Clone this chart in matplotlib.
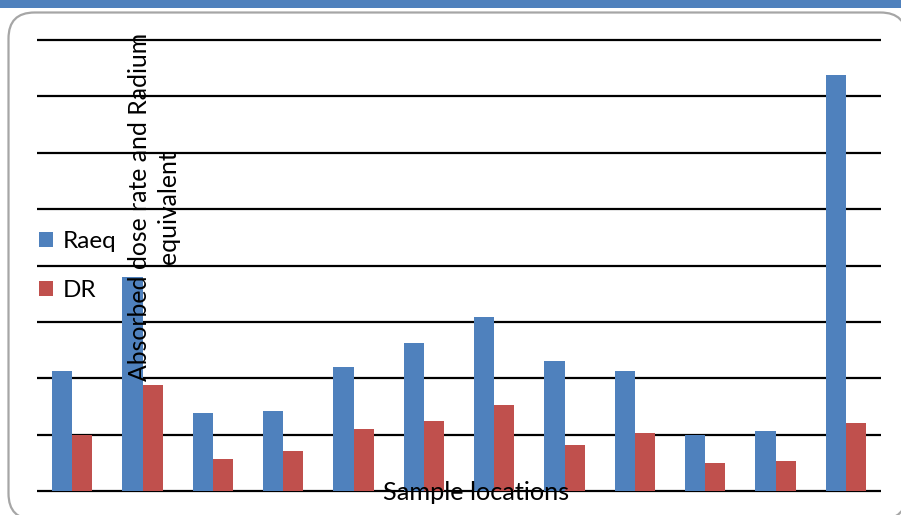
import matplotlib.pyplot as plt
import numpy as np
from matplotlib.patches import FancyBboxPatch, Rectangle

plt.rcParams['font.family'] = ['Lato', 'DejaVu Sans']

# values (gridline spacing = 10 units)
locations = [str(i) for i in range(1, 13)]
raeq = [21.3, 37.9, 13.8, 14.2, 22.0, 26.2, 30.9, 23.0, 21.3, 9.9, 10.6, 73.8]
dr = [10.0, 18.8, 5.7, 7.1, 11.0, 12.4, 15.2, 8.2, 10.3, 5.0, 5.3, 12.1]
grid_levels = [0, 10, 20, 30, 40, 50, 60, 70, 80]

BLUE = '#4f81bd'
RED = '#c0504d'

W, H = 901, 515
fig = plt.figure(figsize=(W / 100, H / 100), dpi=100)

# background frame in pixel coordinates
bg = fig.add_axes([0, 0, 1, 1], zorder=0)
bg.set_xlim(0, W)
bg.set_ylim(H, 0)
bg.axis('off')
bg.add_patch(Rectangle((0, 0), W, 8, color=BLUE, lw=0))
bg.add_patch(FancyBboxPatch((8.5, 12.5), 898, 507,
                            boxstyle='round,pad=0,rounding_size=26',
                            facecolor='white', edgecolor='#a6a6a6', lw=1.6))

ax = fig.add_axes([37 / W, 24 / H, 844 / W, 451 / H], zorder=1)
ax.set_facecolor('none')

x = np.arange(len(locations))
width = 0.285
b1 = ax.bar(x - width / 2, raeq, width, color=BLUE, label='Raeq', zorder=3)
b2 = ax.bar(x + width / 2, dr, width, color=RED, label='DR', zorder=3)

ax.set_xlim(-0.5, len(locations) - 0.5)
ax.set_ylim(0, 80)
ax.hlines(grid_levels, -0.5, len(locations) - 0.5, color='black', lw=1.6,
          zorder=2, clip_on=False)

for s in ax.spines.values():
    s.set_visible(False)
ax.set_xticks([])
ax.set_yticks([])

fig.text(154 / W, 1 - 207 / H, 'Absorbed dose rate and Radium\nequivalent',
         rotation=90, ha='center', va='center', multialignment='center',
         fontsize=17.8, linespacing=1.3, zorder=5)
fig.text(476 / W, 1 - 492 / H, 'Sample locations', ha='center', va='center',
         fontsize=18.2, zorder=5)

leg = fig.legend(handles=[b1, b2], loc='center left',
                 bbox_to_anchor=(17 / W, 1 - 266 / H), frameon=False,
                 fontsize=17.5, handlelength=0.6, handleheight=0.6,
                 handletextpad=0.4, labelspacing=1.15)
leg.set_zorder(6)

fig.savefig('out.png', dpi=100)
